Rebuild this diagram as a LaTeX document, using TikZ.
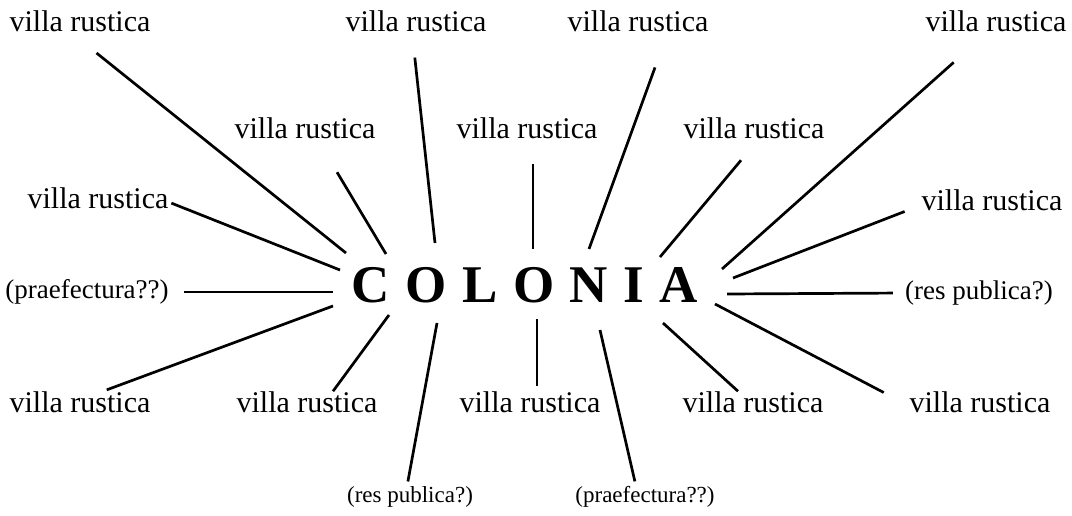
\documentclass[tikz,border=0pt]{standalone}
\usepackage{fontspec}
\setmainfont{Liberation Serif}
\usepackage{tikz}
\usetikzlibrary{positioning}

\begin{document}
\begin{tikzpicture}[x=1pt,y=-1pt,
  villa/.style={inner sep=0pt,font=\fontsize{30}{32}\selectfont},
  query/.style={inner sep=0pt,font=\fontsize{27}{29}\selectfont},
  querysm/.style={inner sep=0pt,font=\fontsize{23}{25}\selectfont},
  ray/.style={line width=2.7pt}]
  \useasboundingbox (0,0) rectangle (1072,516);
  % Centre
  \node[inner sep=0pt,font=\fontsize{53}{55}\selectfont\bfseries] (colonia) at (525,285)
    {C\hspace{15.5pt}O\hspace{15.5pt}L\hspace{15.5pt}O\hspace{15.5pt}N\hspace{15.5pt}I\hspace{15.5pt}A};
  % Settlements round it
  \node[villa] (v1) at (80,21) {villa rustica};
  \node[villa] (v2) at (416,21) {villa rustica};
  \node[villa] (v3) at (638,21) {villa rustica};
  \node[villa] (v4) at (996,21) {villa rustica};
  \node[villa] (v5) at (305,128) {villa rustica};
  \node[villa] (v6) at (527,128) {villa rustica};
  \node[villa] (v7) at (754,128) {villa rustica};
  \node[villa] (v8) at (98,198) {villa rustica};
  \node[villa] (v9) at (992,200) {villa rustica};
  \node[query] (p1) at (87,292) {(praefectura??)};
  \node[query] (p2) at (979,293) {(res publica?)};
  \node[villa] (v10) at (80,402) {villa rustica};
  \node[villa] (v11) at (307,402) {villa rustica};
  \node[villa] (v12) at (530,402) {villa rustica};
  \node[villa] (v13) at (753,402) {villa rustica};
  \node[villa] (v14) at (980,402) {villa rustica};
  \node[querysm] (b1) at (410,497) {(res publica?)};
  \node[querysm] (b2) at (645,497) {(praefectura??)};
  % Ends of the rays next to the word
  \coordinate (h1) at (346,253);
  \coordinate (h2) at (435,243);
  \coordinate (h3) at (589,249);
  \coordinate (h4) at (722,269);
  \coordinate (h5) at (386,254);
  \coordinate (h6) at (533,249);
  \coordinate (h7) at (660,257);
  \coordinate (h8) at (340,270);
  \coordinate (h9) at (733,278);
  \coordinate (h10) at (333,292);
  \coordinate (h11) at (727,294);
  \coordinate (h12) at (333,306);
  \coordinate (h13) at (389,315);
  \coordinate (h14) at (537,319);
  \coordinate (h15) at (663,323);
  \coordinate (h16) at (715,304);
  \coordinate (h17) at (437,323);
  \coordinate (h18) at (600,330);
  % Rays
  \draw[ray,shorten <=34pt] ([xshift=-10pt]v1.south) -- (h1);
  \draw[ray,shorten <=26pt] ([xshift=-4pt]v2.south) -- (h2);
  \draw[ray,shorten <=38pt] ([xshift=30pt]v3.south) -- (h3);
  \draw[ray,shorten <=46pt] ([xshift=-8pt]v4.south) -- (h4);
  \draw[ray,shorten <=39pt] ([xshift=12pt]v5.south) -- (h5);
  \draw[ray,shorten <=25pt] ([xshift=6pt]v6.south) -- (h6);
  \draw[ray,shorten <=28pt] ([xshift=5pt]v7.south) -- (h7);
  \draw[ray,shorten <=3pt] ([yshift=-4pt]v8.east) -- (h8);
  \draw[ray,shorten <=18pt] ([yshift=-5pt]v9.west) -- (h9);
  \draw[ray,shorten <=15pt] (p1.east) -- (h10);
  \draw[ray,shorten <=12pt] (p2.west) -- (h11);
  \draw[ray,shorten <=4pt] ([xshift=23pt]v10.north) -- (h12);
  \draw[ray] ([xshift=26pt]v11.north) -- (h13);
  \draw[ray,shorten <=5pt] ([xshift=7pt]v12.north) -- (h14);
  \draw[ray] ([xshift=-15pt]v13.north) -- (h15);
  \draw[ray,shorten <=29pt] ([yshift=-4pt]v14.west) -- (h16);
  \draw[ray,shorten <=5pt] ([xshift=-3pt]b1.north) -- (h17);
  \draw[ray,shorten <=5pt] ([xshift=-9pt]b2.north) -- (h18);
\end{tikzpicture}
\end{document}
